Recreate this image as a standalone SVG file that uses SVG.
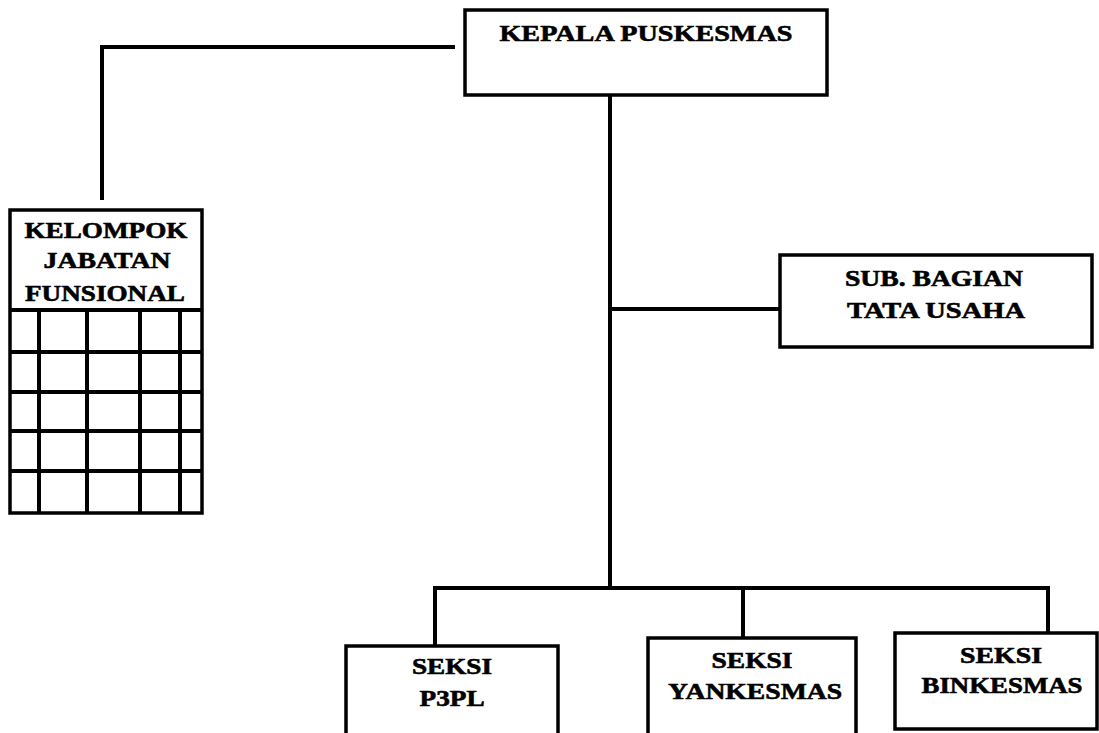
<svg xmlns="http://www.w3.org/2000/svg" width="1099" height="733" viewBox="0 0 1099 733">
<style>
.box{fill:#fff;stroke:#000;stroke-width:3.5}
.ln{fill:none;stroke:#000;stroke-width:4}
.grid{fill:none;stroke:#000;stroke-width:4}
text{font-family:"Liberation Serif","Times New Roman",serif;font-weight:bold;font-size:23px;fill:#000;stroke:#000;stroke-width:0.6;text-anchor:middle}
</style>
<rect width="1099" height="733" fill="#fff"/>
<g id="connectors">
<polyline class="ln" points="455,47 102,47 102,200"/>
<line class="ln" x1="610" y1="95" x2="610" y2="588"/>
<line class="ln" x1="610" y1="309" x2="780" y2="309"/>
<polyline class="ln" points="435,646 435,588 1048,588 1048,633"/>
<line class="ln" x1="743" y1="588" x2="743" y2="638"/>
</g>
<g id="kepala">
<rect class="box" x="465" y="10" width="362" height="85"/>
<text transform="scale(1.2,1)" x="538.3" y="41" textLength="244.2" lengthAdjust="spacingAndGlyphs">KEPALA PUSKESMAS</text>
</g>
<g id="kelompok">
<rect class="box" x="10" y="210" width="192" height="303"/>
<text transform="scale(1.2,1)" x="88.3" y="238" textLength="135.8" lengthAdjust="spacingAndGlyphs">KELOMPOK</text>
<text transform="scale(1.2,1)" x="89.2" y="268" textLength="105.8" lengthAdjust="spacingAndGlyphs">JABATAN</text>
<text transform="scale(1.2,1)" x="87.5" y="301" textLength="133.3" lengthAdjust="spacingAndGlyphs">FUNSIONAL</text>
<path class="grid" d="M10,310H202M10,352H202M10,392H202M10,431H202M10,471H202M39,310V513M87,310V513M140,310V513M180,310V513"/>
</g>
<g id="subbagian">
<rect class="box" x="780" y="255" width="312" height="92"/>
<text transform="scale(1.2,1)" x="778.3" y="286" textLength="148.3" lengthAdjust="spacingAndGlyphs">SUB. BAGIAN</text>
<text transform="scale(1.2,1)" x="780" y="318" textLength="148.3" lengthAdjust="spacingAndGlyphs">TATA USAHA</text>
</g>
<g id="p3pl">
<rect class="box" x="346" y="646" width="212" height="100"/>
<text transform="scale(1.2,1)" x="376.7" y="674" textLength="66.7" lengthAdjust="spacingAndGlyphs">SEKSI</text>
<text transform="scale(1.2,1)" x="376.7" y="706" textLength="54.2" lengthAdjust="spacingAndGlyphs">P3PL</text>
</g>
<g id="yankesmas">
<rect class="box" x="648" y="638" width="208" height="110"/>
<text transform="scale(1.2,1)" x="626.7" y="668" textLength="67.5" lengthAdjust="spacingAndGlyphs">SEKSI</text>
<text transform="scale(1.2,1)" x="629.2" y="699" textLength="145" lengthAdjust="spacingAndGlyphs">YANKESMAS</text>
</g>
<g id="binkesmas">
<rect class="box" x="895" y="633" width="202" height="96"/>
<text transform="scale(1.2,1)" x="834.2" y="663" textLength="68.3" lengthAdjust="spacingAndGlyphs">SEKSI</text>
<text transform="scale(1.2,1)" x="835" y="693" textLength="134.2" lengthAdjust="spacingAndGlyphs">BINKESMAS</text>
</g>
</svg>
